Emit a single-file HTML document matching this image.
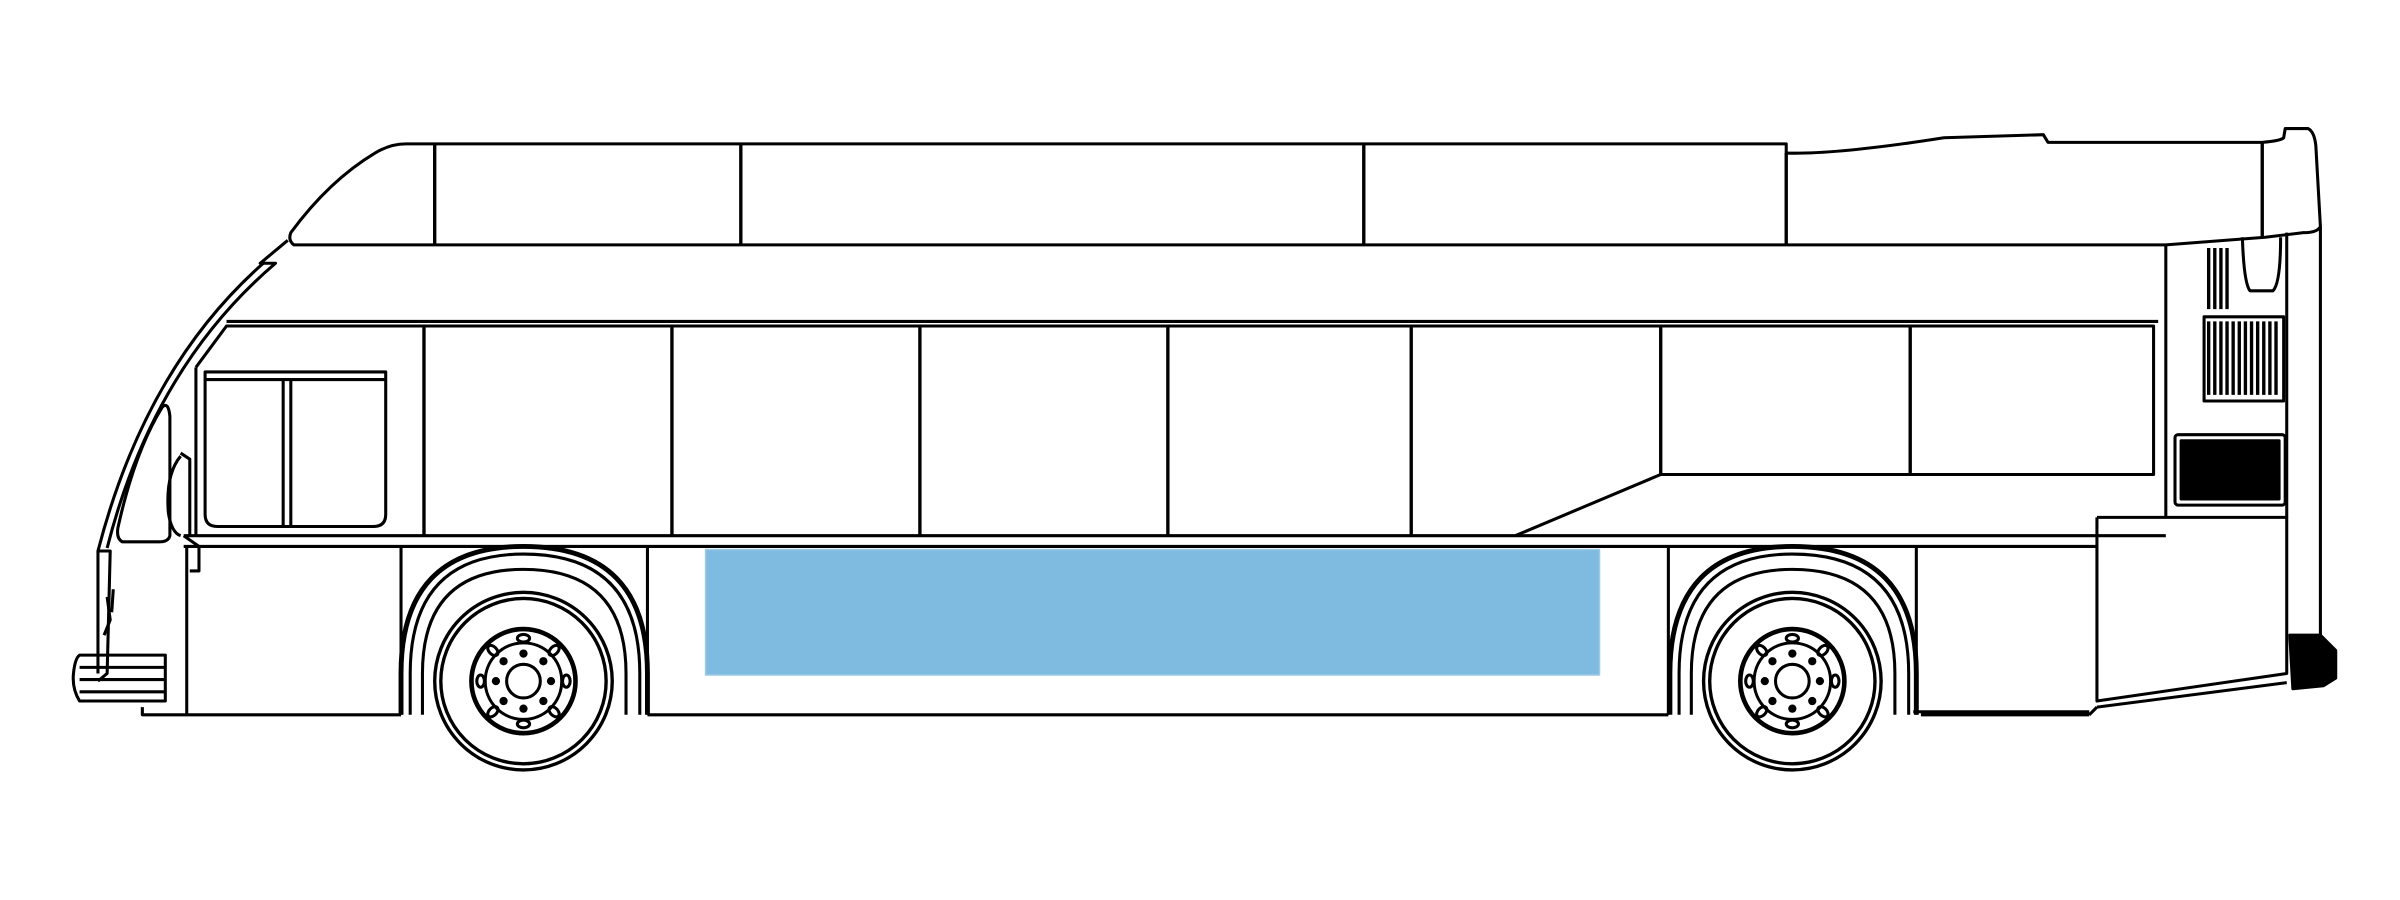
<!DOCTYPE html>
<html><head><meta charset="utf-8"><style>
html,body{margin:0;padding:0;background:#fff;width:2400px;height:900px;overflow:hidden}
svg{display:block}
</style></head><body>
<svg width="2400" height="900" viewBox="0 0 1568 588" preserveAspectRatio="none" fill="none" stroke="#000" stroke-width="2" stroke-linejoin="round">
<rect x="461" y="359" width="584" height="82" fill="#7fbae0" stroke="#9cc9e6" stroke-width="1"/>
<path d="M190,152 Q215,118 245,100 Q255,94 265,94 L1167,94 L1167,100 Q1200,101 1270,90 L1335,88 L1338,93 L1478,93 Q1490,92 1492,90 L1493,84 L1508,84 Q1512,86 1513,95 L1516,148 Q1514,152 1505,152 L1480,155 L1415,160 L192,160 Q188,157 190,152 Z"/>
<path d="M284,94 V160 M484,94 V160 M891,94 V160 M1167,100 V160 M1478,93 V155" stroke-width="2.2"/>
<path d="M188,157 L170,172 L180,172 Q100,240 70,358" />
<path d="M172,172 Q95,240 64,360 L64,440" />
<path d="M148,210 L1410,210"/>
<path d="M128,240 L148,213 L1407,213 L1407,310 L1085,310 L990,350"/>
<path d="M128,240 L128,350"/>
<path d="M277,213 V350 M439,213 V350 M601,213 V350 M763,213 V350 M922,213 V350 M1085,213 V310 M1248,213 V310" stroke-width="2.2"/>
<path d="M134,243 L252,243 L252,336 Q252,344 244,344 L142,344 Q134,344 134,336 Z"/>
<path d="M134,248 L252,248 M185,248 V344 M190,248 V344"/>
<path d="M106,266 Q110,262 111,272 L111,350 Q110,354 104,354 L80,354 Q76,352 77,345 Q88,295 106,266 Z"/>
<path d="M118,298 Q108,310 110,335 Q112,348 118,350"/>
<path d="M118,296 L124,300 L124,350"/>
<path d="M120,350 L1415,350 M120,357 L1370,357 M120,350 L130,357 L130,373 L124,373"/>
<path d="M64,360 L72,360 L70,440 L64,445 M93,462 L93,467 L262,467"/>
<path d="M122,357 V467 M262,357 V467"/>
<path d="M52,428 L108,428 L108,458 L52,458 Q47,450 48,440 Q49,430 52,428 Z M52,436 H108 M52,444 H108 M52,452 H108"/>
<path d="M70,390 L72,405 L68,415 M74,385 L73,400"/>
<path d="M423,467 L1090,467 M1250,465 L1365,465 M1365,467 L1255,467"/>
<path d="M423,357 V467 M1090,357 V467 M1252,357 V467"/>
<g id="arch">
<path d="M262,467 V440 Q262,357 342,357 Q423,357 423,440 V467" stroke-width="3.2"/>
<path d="M268,467 V440 Q268,362 342,362 Q418,362 418,440 V467 M276,467 V440 Q276,372 342,372 Q409,372 409,440 V467" />
</g>
<use href="#arch" transform="translate(829 0)"/>
<g id="w">
<circle cx="342" cy="445" r="58" stroke-width="2.2"/><circle cx="342" cy="445" r="54" stroke-width="2.2"/>
<circle cx="342" cy="445" r="34" stroke-width="3"/><circle cx="342" cy="445" r="25"/><circle cx="342" cy="445" r="11"/>
<g fill="#000" stroke="none">
<circle cx="342" cy="427" r="2.7"/><circle cx="342" cy="463" r="2.7"/><circle cx="324" cy="445" r="2.7"/><circle cx="360" cy="445" r="2.7"/>
<circle cx="329" cy="432" r="2.7"/><circle cx="355" cy="432" r="2.7"/><circle cx="329" cy="458" r="2.7"/><circle cx="355" cy="458" r="2.7"/>
</g>
<ellipse cx="342" cy="417" rx="4" ry="2.5"/><ellipse cx="342" cy="473" rx="4" ry="2.5"/><ellipse cx="314" cy="445" rx="2.5" ry="4"/><ellipse cx="370" cy="445" rx="2.5" ry="4"/>
<ellipse cx="322" cy="425" rx="4" ry="2.5" transform="rotate(45 322 425)"/><ellipse cx="362" cy="425" rx="4" ry="2.5" transform="rotate(-45 362 425)"/>
<ellipse cx="322" cy="465" rx="4" ry="2.5" transform="rotate(-45 322 465)"/><ellipse cx="362" cy="465" rx="4" ry="2.5" transform="rotate(45 362 465)"/>
</g>
<use href="#w" transform="translate(829 0)"/>
<path d="M1415,160 V338 M1370,338 L1494,338 L1494,440 L1370,458 L1370,338 M1370,462 L1494,446 M1365,467 L1370,462"/>
<path d="M1494,152 V338 M1516,148 V415"/>
<path d="M1465,155 Q1466,185 1470,190 L1485,190 Q1490,185 1490,155"/>
<g stroke-width="2.2"><path d="M1443,162 V202 M1447,162 V202 M1451,162 V202 M1455,162 V202"/>
<path d="M1443,210 V258 M1447,210 V258 M1451,210 V258 M1455,210 V258 M1459,210 V258 M1463,210 V258 M1467,210 V258 M1471,210 V258 M1475,210 V258 M1479,210 V258 M1483,210 V258 M1487,210 V258"/></g>
<rect x="1440" y="207" width="52" height="55"/>
<rect x="1421" y="284" width="72" height="46" rx="2"/>
<rect x="1425" y="288" width="64" height="38" fill="#000"/>
<path d="M1496,415 L1516,415 L1526,425 L1526,443 L1518,448 L1498,450 Z" fill="#000"/>
</svg>
</body></html>
